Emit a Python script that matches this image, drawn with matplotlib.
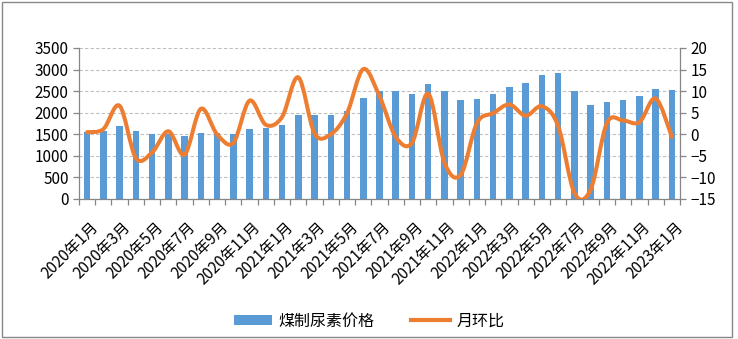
import numpy as np
import matplotlib
matplotlib.use('Agg')
import matplotlib.pyplot as plt
from matplotlib.path import Path
from matplotlib.patches import PathPatch, Patch, Rectangle
from matplotlib.lines import Line2D
import matplotlib.transforms as mtransforms

plt.rcParams['font.family'] = ['Noto Sans CJK SC', 'DejaVu Sans']

# data
months = [f'{y}年{m}月' for y in (2020, 2021, 2022) for m in range(1, 13)] + ['2023年1月']
price = [1560, 1580, 1700, 1580, 1510, 1500, 1460, 1530, 1530, 1510,
         1620, 1650, 1720, 1950, 1950, 1950, 2040, 2350, 2510, 2510,
         2440, 2670, 2510, 2290, 2320, 2440, 2600, 2700, 2880, 2930,
         2510, 2180, 2240, 2300, 2380, 2560, 2530]
mom = [0.5, 1.2, 6.6, -5.5, -4.2, 0.7, -4.7, 5.9, 0.0, -2.0,
       7.8, 2.2, 4.0, 13.2, 0.2, 0.0, 4.9, 15.1, 8.8, -0.6,
       -2.0, 9.4, -6.6, -9.4, 2.6, 4.9, 6.9, 4.3, 6.5, 1.9,
       -13.6, -12.8, 2.6, 3.2, 2.8, 8.3, -0.6]

blue = '#5B9BD5'
orange = '#ED7D31'
axis_gray = '#868686'

fig = plt.figure(figsize=(7.38, 3.39), dpi=100)
ax = fig.add_axes([79 / 738, 1 - 199 / 339, 601 / 738, 151 / 339])
ax2 = ax.twinx()

x = np.arange(len(price))
ax.bar(x, price, width=0.4, color=blue, zorder=2)

# smooth line like excel: cubic bezier through the points
pts = np.column_stack([x, mom]).astype(float)
verts = [tuple(pts[0])]
codes = [Path.MOVETO]
n = len(pts)
for i in range(n - 1):
    p0 = pts[i - 1] if i > 0 else pts[i]
    p1 = pts[i]
    p2 = pts[i + 1]
    p3 = pts[i + 2] if i + 2 < n else pts[i + 1]
    c1 = p1 + (p2 - p0) / 6
    c2 = p2 - (p3 - p1) / 6
    verts += [tuple(c1), tuple(c2), tuple(p2)]
    codes += [Path.CURVE4] * 3
ax2.add_patch(PathPatch(Path(verts, codes), facecolor='none', edgecolor=orange,
                        lw=2.9, capstyle='round', joinstyle='round', zorder=3))

ax.set_xlim(-0.5, len(price) - 0.5)
ax.set_ylim(0, 3500)
ax.set_yticks(np.arange(0, 3501, 500))
ax2.set_ylim(-15, 20)
ax2.set_yticks(np.arange(-15, 21, 5))

ax.grid(axis='y', color='#BFBFBF', linestyle=(0, (3, 2)), linewidth=0.8, zorder=0)
ax.set_axisbelow(True)

for a in (ax, ax2):
    a.spines['top'].set_visible(False)
    for s in ('left', 'right', 'bottom'):
        a.spines[s].set_color(axis_gray)
        a.spines[s].set_linewidth(0.9)
ax.spines['right'].set_visible(False)
ax2.spines['left'].set_visible(False)
ax2.spines['bottom'].set_visible(False)

ax.tick_params(axis='y', length=4.5, width=0.9, color=axis_gray, labelsize=11, pad=3)
ax2.tick_params(axis='y', length=4.5, width=0.9, color=axis_gray, labelsize=11, pad=3)

# category boundary ticks, labels every other month
ax.set_xticks(np.arange(-0.5, len(price), 1), minor=True)
ax.set_xticks(x[::2])
ax.set_xticklabels(months[::2], rotation=45, ha='right', va='top',
                   rotation_mode='anchor', fontsize=11)
ax.tick_params(axis='x', which='major', length=0, pad=14)
ax.tick_params(axis='x', which='minor', length=4.5, width=0.9, color=axis_gray)
offset = mtransforms.ScaledTranslation(2 / 72, 0, fig.dpi_scale_trans)
for lab in ax.get_xticklabels():
    lab.set_transform(lab.get_transform() + offset)

handles = [Patch(facecolor=blue, edgecolor='none'),
           Line2D([0], [0], color=orange, lw=3)]
fig.legend(handles, ['煤制尿素价格', '月环比'], loc='center', bbox_to_anchor=(0.5, 1 - 321 / 339),
           ncol=2, frameon=False, fontsize=11.5, handlelength=2.4, handleheight=0.6,
           handletextpad=0.4, columnspacing=2.3)

fig.patches.append(Rectangle((2 / 738, 2 / 339), 730 / 738, 335 / 339, transform=fig.transFigure,
                             fill=False, edgecolor='#898989', linewidth=1.0))

fig.savefig('out.png', dpi=100)
